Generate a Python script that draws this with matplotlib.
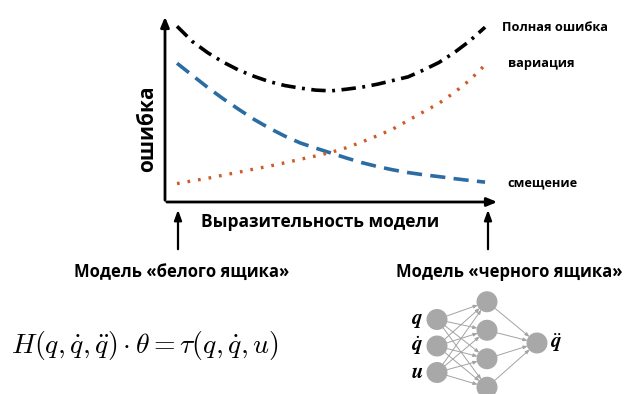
import numpy as np
import matplotlib.pyplot as plt
from matplotlib.patches import Circle

plt.rcParams['font.family'] = ['Open Sans', 'DejaVu Sans']
plt.rcParams['mathtext.fontset'] = 'cm'

# выразительность модели (условные единицы) и ошибки
complexity = [0, 0.5, 1, 1.5, 2, 2.5, 3, 3.5, 4, 4.5, 5,
              5.5, 6, 6.5, 7, 7.5, 8, 8.5, 9, 9.5, 10]
total_err = [9.55, 8.72, 8.11, 7.60, 7.17, 6.83, 6.54, 6.33, 6.19, 6.08, 6.04,
             6.13, 6.24, 6.40, 6.60, 6.80, 7.17, 7.58, 8.12, 8.75, 9.50]
bias = [7.54, 6.88, 6.22, 5.61, 5.04, 4.49, 4.01, 3.58, 3.21, 2.93, 2.66,
        2.39, 2.14, 1.93, 1.75, 1.60, 1.48, 1.38, 1.27, 1.17, 1.08]
variance = [1.00, 1.15, 1.29, 1.46, 1.62, 1.79, 1.95, 2.13, 2.32, 2.50, 2.70,
            2.95, 3.26, 3.60, 3.96, 4.43, 4.90, 5.36, 5.95, 6.62, 7.45]
curve_labels = ['Полная ошибка', 'вариация', 'смещение']

# нейросеть: размеры слоёв и подписи входов/выхода
layer_sizes = [3, 4, 1]
in_labels = [r'$\boldsymbol{q}$', r'$\dot{\boldsymbol{q}}$', r'$\boldsymbol{u}$']
out_label = r'$\ddot{\boldsymbol{q}}$'

W, H = 633, 394
fig = plt.figure(figsize=(W / 100, H / 100), dpi=100)

# фоновая ось в пикселях для схемы
ov = fig.add_axes([0, 0, 1, 1])
ov.set_xlim(0, W)
ov.set_ylim(H, 0)
ov.axis('off')

# ось графика: пиксели 165..498 по x, 18..202 по y
x0, x1, y0, y1 = 165, 498, 18, 202
ax = fig.add_axes([x0 / W, 1 - y1 / H, (x1 - x0) / W, (y1 - y0) / H])
ax.set_xlim(-0.39, 10.42)
ax.set_ylim(0, 10)
ax.axis('off')
ax.patch.set_alpha(0)

ax.plot(complexity, total_err, color='black', lw=2.6, dashes=(4, 1.8, 0.8, 1.8))
ax.plot(complexity, bias, color='#2b6ca3', lw=2.6, dashes=(4.2, 2.3))
ax.plot(complexity, variance, color='#cf5a26', lw=2.4, dashes=(0.8, 2.4))

# стрелки осей
arr = dict(arrowstyle='-|>,head_length=0.6,head_width=0.25', color='black', lw=2)
ov.annotate('', xy=(x0, 14), xytext=(x0, y1 + 1), arrowprops=arr)
ov.annotate('', xy=(x1 + 2, y1), xytext=(x0 - 1, y1), arrowprops=arr)

ov.text(148, 129, 'ошибка', rotation=90, ha='center', va='center',
        fontsize=15, fontweight='bold')
ov.text(320, 222, 'Выразительность модели', ha='center', va='center',
        fontsize=12.5, fontweight='bold')

lab_pos = [(502, 27), (508, 63), (507, 183)]
for t, (px, py) in zip(curve_labels, lab_pos):
    ov.text(px, py, t, ha='left', va='center', fontsize=9.2, fontweight='bold')

# стрелки вверх к подписям моделей
arr2 = dict(arrowstyle='-|>,head_length=0.6,head_width=0.22', color='black', lw=1.6)
for px in (178, 488):
    ov.annotate('', xy=(px, 207), xytext=(px, 252), arrowprops=arr2)

ov.text(182, 272, 'Модель «белого ящика»', ha='center', va='center',
        fontsize=12, fontweight='bold')
ov.text(509, 272, 'Модель «черного ящика»', ha='center', va='center',
        fontsize=12, fontweight='bold')

ov.text(145, 345, r'$H(q,\dot{q},\ddot{q})\cdot\theta=\tau(q,\dot{q},u)$',
        ha='center', va='center', fontsize=20)

# нейросеть
layer_x = [437, 487, 537]
layer_gap = [26.5, 28.5, 0]
layer_cy = [346, 344.5, 343]
r = 9.8
pos = []
for lx, n, gap, cy in zip(layer_x, layer_sizes, layer_gap, layer_cy):
    ys = cy + (np.arange(n) - (n - 1) / 2) * gap
    pos.append([(lx, y) for y in ys])

earr = dict(arrowstyle='-|>,head_length=0.25,head_width=0.1', color='#a3a3a3',
            lw=0.7, shrinkA=0, shrinkB=0)
for a, b in zip(pos[:-1], pos[1:]):
    for (ax_, ay) in a:
        for (bx, by) in b:
            d = np.hypot(bx - ax_, by - ay)
            ux, uy = (bx - ax_) / d, (by - ay) / d
            ov.annotate('', xy=(bx - ux * r, by - uy * r),
                        xytext=(ax_ + ux * r, ay + uy * r), arrowprops=earr)
for layer in pos:
    for (px, py) in layer:
        ov.add_patch(Circle((px, py), r, color='#a8a8a8', zorder=3))

for (px, py), t in zip(pos[0], in_labels):
    ov.text(px - 14, py, t, ha='right', va='center', fontsize=15)
ox, oy = pos[2][0]
ov.text(ox + 13, oy, out_label, ha='left', va='center', fontsize=15)

fig.savefig('out.png', dpi=100, facecolor='white')
